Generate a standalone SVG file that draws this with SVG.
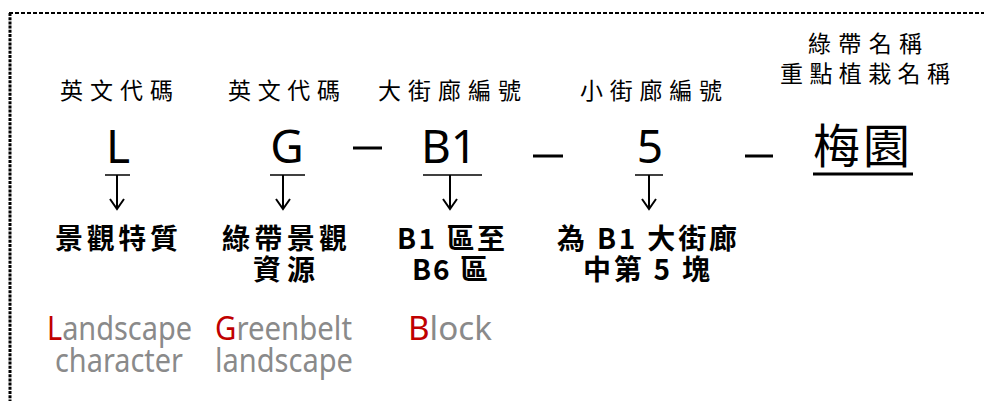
<svg xmlns="http://www.w3.org/2000/svg" width="984" height="401" viewBox="0 0 984 401">
<style>
.lbl{font-family:"Noto Sans CJK TC","Noto Sans CJK SC",sans-serif;font-size:23px;fill:#000;}
.big{font-family:"Noto Sans","Open Sans",sans-serif;font-size:46px;fill:#000;text-anchor:middle;}
.bigc{font-family:"Noto Sans CJK TC","Noto Sans CJK SC",sans-serif;font-size:47px;fill:#000;}
.desc{font-family:"Noto Sans CJK TC","Noto Sans CJK SC",sans-serif;font-size:28px;font-weight:bold;fill:#000;}
.en{font-family:"Noto Sans","Open Sans",sans-serif;font-size:32px;fill:#8a8a8a;}
.red{fill:#c00000;}
.bar{stroke:#000;stroke-width:1.5;}
.arr{stroke:#000;stroke-width:2;fill:none;}
</style>
<g id="frame">
<line x1="9" y1="13" x2="984" y2="13" stroke="#000" stroke-width="2" stroke-dasharray="4,2"/>
<line x1="10" y1="13" x2="10" y2="401" stroke="#000" stroke-width="3" stroke-dasharray="3,1.2"/>
</g>
<g id="node-L">
<text class="lbl" x="60" y="99" textLength="113">英文代碼</text>
<text class="big" x="118" y="163">L</text>
<text class="desc" x="55" y="249" textLength="123">景觀特質</text>
<text class="en" x="47" y="340" textLength="145" lengthAdjust="spacingAndGlyphs"><tspan class="red">L</tspan>andscape</text>
<text class="en" x="55" y="372" textLength="128" lengthAdjust="spacingAndGlyphs">character</text>
</g>
<g id="node-G">
<text class="lbl" x="228" y="99" textLength="112">英文代碼</text>
<text class="big" x="287" y="163">G</text>
<text class="desc" x="222" y="249" textLength="125">綠帶景觀</text>
<text class="desc" x="253" y="280" textLength="62">資源</text>
<text class="en" x="215" y="340" textLength="137" lengthAdjust="spacingAndGlyphs"><tspan class="red">G</tspan>reenbelt</text>
<text class="en" x="215" y="372" textLength="138" lengthAdjust="spacingAndGlyphs">landscape</text>
</g>
<g id="node-B1">
<text class="lbl" x="378" y="99" textLength="143">大街廊編號</text>
<text class="big" x="449" y="163">B1</text>
<text class="desc" x="397" y="249" textLength="108">B1 區至</text>
<text class="desc" x="412" y="280" textLength="76">B6 區</text>
<text class="en" x="408" y="340" textLength="84" lengthAdjust="spacingAndGlyphs"><tspan class="red">B</tspan>lock</text>
</g>
<g id="node-5">
<text class="lbl" x="580" y="99" textLength="142">小街廊編號</text>
<text class="big" x="650" y="163">5</text>
<text class="desc" x="557" y="249" textLength="180">為 B1 大街廊</text>
<text class="desc" x="583" y="280" textLength="127">中第 5 塊</text>
</g>
<g id="node-name">
<text class="lbl" x="808" y="52" textLength="114">綠帶名稱</text>
<text class="lbl" x="780" y="82" textLength="170">重點植栽名稱</text>
<text class="bigc" x="813" y="163" textLength="97">梅園</text>
<rect x="813" y="172.5" width="100" height="3" fill="#000"/>
</g>
<g id="separators">
<rect x="353" y="146.5" width="29" height="3" fill="#000"/>
<rect x="533" y="154.5" width="30" height="3" fill="#000"/>
<rect x="745" y="154.5" width="28" height="3" fill="#000"/>
</g>
<g id="connectors">
<line class="bar" x1="105" y1="175" x2="130" y2="175"/>
<line class="arr" x1="117" y1="175" x2="117" y2="209"/>
<path class="arr" d="M110,199 L117,209 L124,199"/>
<line class="bar" x1="270" y1="175" x2="305" y2="175"/>
<line class="arr" x1="283" y1="175" x2="283" y2="209"/>
<path class="arr" d="M276,199 L283,209 L290,199"/>
<line class="bar" x1="423" y1="175" x2="482" y2="175"/>
<line class="arr" x1="450" y1="175" x2="450" y2="209"/>
<path class="arr" d="M443,199 L450,209 L457,199"/>
<line class="bar" x1="635" y1="175" x2="663" y2="175"/>
<line class="arr" x1="649" y1="175" x2="649" y2="209"/>
<path class="arr" d="M642,199 L649,209 L656,199"/>
</g>
</svg>
